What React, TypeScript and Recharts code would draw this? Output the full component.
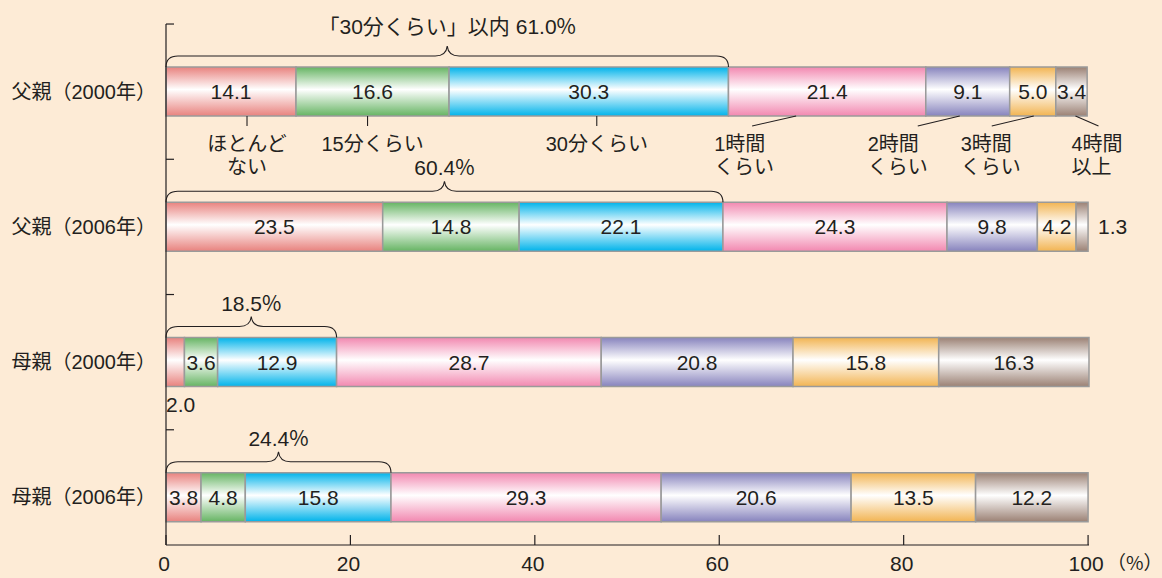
import { Bar, BarChart, LabelList, XAxis, YAxis } from "recharts";

const categories = ["父親（2000年）", "父親（2006年）", "母親（2000年）", "母親（2006年）"];
const seriesNames = ["ほとんどない", "15分くらい", "30分くらい", "1時間くらい", "2時間くらい", "3時間くらい", "4時間以上"];
const seriesLines = [
  ["ほとんど", "ない"],
  ["15分くらい"],
  ["30分くらい"],
  ["1時間", "くらい"],
  ["2時間", "くらい"],
  ["3時間", "くらい"],
  ["4時間", "以上"],
];
const hardlyAny = [14.1, 23.5, 2.0, 3.8];
const about15 = [16.6, 14.8, 3.6, 4.8];
const about30 = [30.3, 22.1, 12.9, 15.8];
const about60 = [21.4, 24.3, 28.7, 29.3];
const about120 = [9.1, 9.8, 20.8, 20.6];
const about180 = [5.0, 4.2, 15.8, 13.5];
const over240 = [3.4, 1.3, 16.3, 12.2];
const within30 = [61.0, 60.4, 18.5, 24.4];
const within30Prefix = ["「30分くらい」以内 ", "", "", ""];
const xTicks = [0, 20, 40, 60, 80, 100];

const seriesValues = [hardlyAny, about15, about30, about60, about120, about180, over240];
const keys = seriesNames.map((_, i) => `s${i}`);

const rows = categories.map((name, i) => {
  const row: Record<string, string | number> = { name };
  keys.forEach((k, j) => {
    row[k] = seriesValues[j][i];
  });
  return row;
});

// styling
const colors = ["#e8827e", "#66b463", "#00b3ea", "#f288b0", "#8783bd", "#f2b452", "#9b8174"];
const ink = "#231f20";
const font = "'Liberation Sans', 'Noto Sans CJK JP', sans-serif";
const cjk = "'Noto Sans CJK JP', sans-serif";
const halfBand = 67.6;

// leader lines + names under the first bar, offsets from segment centre
const callouts = [
  { x1: 16, x2: 16, tx: 16, anchor: "middle" },
  { x1: -5, x2: -5, tx: 0, anchor: "middle" },
  { x1: 8, x2: 8, tx: 8, anchor: "middle" },
  { x1: -31, x2: -75, tx: -113, anchor: "start" },
  { x1: -8, x2: -50, tx: -100, anchor: "start" },
  { x1: 1, x2: -41, tx: -72, anchor: "start" },
  { x1: 4, x2: 27, tx: 0, anchor: "start" },
];

function box(props: any) {
  const vb = props.viewBox && props.viewBox.width != null ? props.viewBox : props;
  return { x: Number(vb.x), y: Number(vb.y), w: Number(vb.width), h: Number(vb.height) };
}

function bracePath(x0: number, x1: number, y: number) {
  const h = y - 11;
  const p = y - 21;
  const c = (x0 + x1) / 2;
  return `M${x0},${y} Q${x0},${h} ${x0 + 12},${h} L${c - 12},${h} Q${c - 1},${h} ${c},${p} Q${c + 1},${h} ${c + 12},${h} L${x1 - 12},${h} Q${x1},${h} ${x1},${y}`;
}

function makeLabel(series: number) {
  return (props: any) => {
    const { x, y, w, h } = box(props);
    const index = props.index as number;
    const value = seriesValues[series][index];
    const text = value.toFixed(1);
    let label;
    if (w >= 20) {
      label = (
        <text x={x + w / 2} y={y + h / 2 + 7.5} textAnchor="middle" fontSize={21} fill={ink} fontFamily={font}>
          {text}
        </text>
      );
    } else if (series === seriesNames.length - 1) {
      label = (
        <text x={x + w + 10} y={y + h / 2 + 7.5} textAnchor="start" fontSize={21} fill={ink} fontFamily={font}>
          {text}
        </text>
      );
    } else {
      label = (
        <text x={x} y={y + h + 25} textAnchor="start" fontSize={21} fill={ink} fontFamily={font}>
          {text}
        </text>
      );
    }

    let brace = null;
    if (series === 2) {
      const perUnit = w / value;
      const x0 = x - (hardlyAny[index] + about15[index]) * perUnit;
      const x1 = x + w;
      const raise = within30Prefix[index] ? 33 : 27;
      brace = (
        <g>
          <path d={bracePath(x0, x1, y)} fill="none" stroke={ink} strokeWidth={1.1} />
          <text x={(x0 + x1) / 2} y={y - raise} textAnchor="middle" fontSize={21} fill={ink} fontFamily={font}>
            {within30Prefix[index] + within30[index].toFixed(1)}
            <tspan fontFamily={cjk}>%</tspan>
          </text>
        </g>
      );
    }

    let callout = null;
    if (index === 0) {
      const c = callouts[series];
      const cx = x + w / 2;
      const bottom = y + h;
      callout = (
        <g>
          <line x1={cx + c.x1} y1={bottom} x2={cx + c.x2} y2={bottom + 10} stroke={ink} strokeWidth={1.1} />
          {seriesLines[series].map((line, k) => (
            <text
              key={k}
              x={cx + c.tx}
              y={bottom + 35 + k * 23}
              textAnchor={c.anchor as any}
              fontSize={20}
              fill={ink}
              fontFamily={font}
            >
              {line}
            </text>
          ))}
        </g>
      );
    }

    return (
      <g>
        {label}
        {brace}
        {callout}
      </g>
    );
  };
}

function YTick(props: any) {
  const { y, payload } = props;
  const top = y - halfBand;
  return (
    <g>
      <line x1={166} y1={top} x2={174} y2={top} stroke={ink} strokeWidth={1.2} />
      <text x={156} y={y + 7} textAnchor="end" fontSize={20} fill={ink} fontFamily={font}>
        {payload.value}
      </text>
    </g>
  );
}

function XTick(props: any) {
  const { x, y, payload } = props;
  const last = payload.value === xTicks[xTicks.length - 1];
  return (
    <g>
      <line x1={x} y1={y} x2={x} y2={y - 10} stroke={ink} strokeWidth={1.2} />
      <text x={x - 2} y={y + 26} textAnchor="middle" fontSize={21} fill={ink} fontFamily={font}>
        {payload.value}
      </text>
      {last && (
        <text x={x + 19} y={y + 25} textAnchor="start" fontSize={19} fill={ink} fontFamily={cjk}>
          （%）
        </text>
      )}
    </g>
  );
}

export default function App() {
  return (
    <div
      style={{
        position: "fixed",
        left: 0,
        top: 0,
        width: 1162,
        height: 578,
        background: "#fdebd6",
        overflow: "hidden",
      }}
    >
      <BarChart
        width={1162}
        height={578}
        data={rows}
        layout="vertical"
        margin={{ top: 24, right: 73, bottom: 0, left: 0 }}
      >
        <defs>
          {colors.map((c, i) => (
            <linearGradient key={i} id={`grad${i}`} x1="0" y1="0" x2="0" y2="1">
              <stop offset="0%" stopColor={c} />
              <stop offset="46%" stopColor="#ffffff" />
              <stop offset="100%" stopColor={c} />
            </linearGradient>
          ))}
        </defs>
        <XAxis
          type="number"
          domain={[0, 100]}
          ticks={xTicks}
          height={33}
          tickSize={0}
          tickMargin={0}
          tickLine={false}
          axisLine={{ stroke: ink, strokeWidth: 1.2 }}
          tick={<XTick />}
          interval={0}
        />
        <YAxis
          type="category"
          dataKey="name"
          width={166}
          padding={{ top: 0, bottom: -20 }}
          tickLine={false}
          axisLine={{ stroke: ink, strokeWidth: 1.2 }}
          tick={<YTick />}
          interval={0}
        />
        {keys.map((k, i) => (
          <Bar
            key={k}
            dataKey={k}
            name={seriesNames[i]}
            stackId="a"
            barSize={49}
            fill={`url(#grad${i})`}
            stroke="#9a9a9a"
            strokeWidth={1.5}
            isAnimationActive={false}
          >
            <LabelList dataKey={k} content={makeLabel(i)} />
          </Bar>
        ))}
      </BarChart>
    </div>
  );
}
